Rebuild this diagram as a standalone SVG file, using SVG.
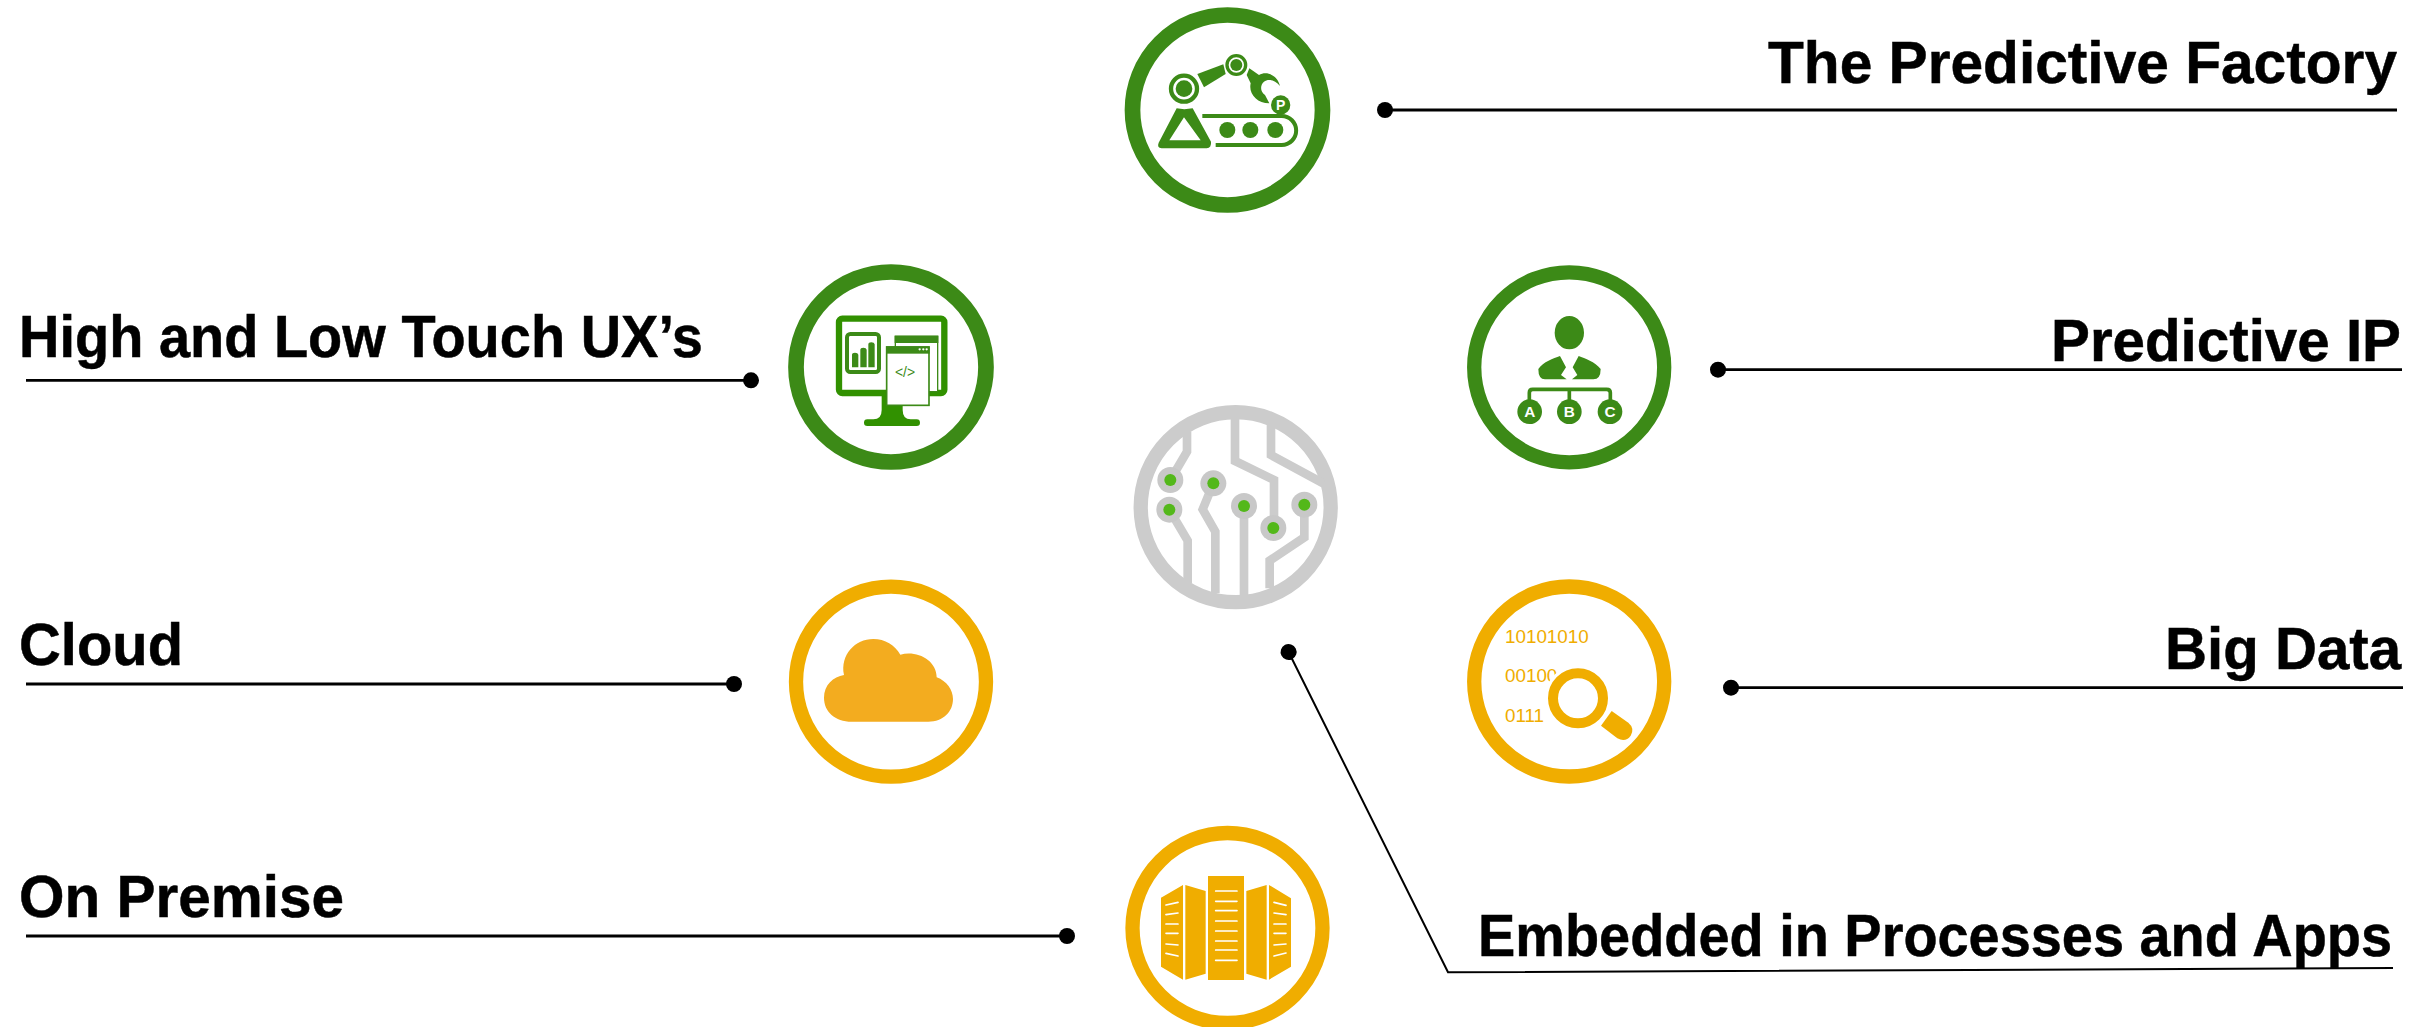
<svg xmlns="http://www.w3.org/2000/svg" width="2434" height="1027" viewBox="0 0 2434 1027">
<style>
.lbl{font-family:"Liberation Sans",Arial,sans-serif;font-weight:700;font-size:59px;fill:#000;stroke:#000;stroke-width:.5}
.end{text-anchor:end}
.ring{fill:#fff;stroke-width:14.300}
.wide{stroke-width:15.700}
.g{stroke:#3c8a17}.y{stroke:#f0ad00}.c{stroke:#cccccc}
.gf{fill:#3c8a17}.gb{fill:#319100}.yf{fill:#f0ad00}
.conn{fill:none;stroke:#000;stroke-width:2.800}
.thin{stroke-width:2}
.trace{fill:none;stroke:#cccccc;stroke-width:26;stroke-linejoin:miter}
.nd{fill:#c8c8c8}.ndc{fill:#53b81a}
.ic{font-family:"Liberation Sans",Arial,sans-serif;font-weight:700;fill:#fff;text-anchor:middle}
.bits{font-family:"Liberation Sans",Arial,sans-serif;font-size:56.500px;fill:#f0ad00}
.sl{stroke:#fff;stroke-width:5;stroke-linecap:round;fill:none}
</style>
<defs>
<marker id="dot" markerUnits="userSpaceOnUse" markerWidth="18" markerHeight="18" refX="9" refY="9" orient="auto"><circle cx="9" cy="9" r="8" fill="#000"/></marker>
</defs>
<g id="connectors">
<path class="conn" marker-start="url(#dot)" d="M1385,110H2397"/>
<path class="conn" marker-start="url(#dot)" d="M1718,369.700H2402"/>
<path class="conn" marker-start="url(#dot)" d="M751,380.300H26"/>
<path class="conn" marker-start="url(#dot)" d="M734,684H26"/>
<path class="conn" marker-start="url(#dot)" d="M1731,687.700H2403"/>
<path class="conn" marker-start="url(#dot)" d="M1067,936H26"/>
<path class="conn thin" marker-start="url(#dot)" d="M1288.600,652L1448,972.300L2393,968"/>
</g>
<g id="node-factory">
<circle class="ring wide g" cx="1227.500" cy="110" r="95"/>
<g transform="translate(1110,0) scale(.33333)">
<circle cx="222" cy="266" r="39" fill="none" stroke="#3c8a17" stroke-width="13"/><circle class="gf" cx="222" cy="266" r="25"/>
<circle cx="379" cy="195" r="28" fill="none" stroke="#3c8a17" stroke-width="10"/><circle class="gf" cx="379" cy="195" r="18"/>
<path class="gf" d="M262,222L340,193L347,222L282,262Z"/>
<path class="gf" d="M410,225L418,205L447,225C470,212 503,225 510,258C495,240 475,235 462,245C450,255 450,275 465,285L478,310C440,310 415,280 422,250Z"/>
<circle class="gf" cx="512" cy="315" r="29"/><text class="ic" x="512" y="330" font-size="42">P</text>
<path class="gf" fill-rule="evenodd" d="M200,325Q222,330 248,325L303,425Q305,443 290,445L155,445Q140,443 146,428ZM222,352L178,421H272Z"/>
<path d="M277,348H515A43.500,43.500 0 0 1 515,435H317" fill="none" stroke="#3c8a17" stroke-width="12"/>
<circle class="gf" cx="352" cy="390" r="24"/><circle class="gf" cx="421" cy="390" r="24"/><circle class="gf" cx="496" cy="390" r="24"/>
</g>
<text class="lbl end" x="2397" y="83" textLength="629" lengthAdjust="spacingAndGlyphs">The Predictive Factory</text>
</g>
<g id="node-ux">
<circle class="ring wide g" cx="891" cy="367" r="95"/>
<g transform="translate(780,260) scale(.33333)">
<path class="gb" d="M305,438V450Q305,478 280,478H262a10,10 0 0 0 0,20H410a10,10 0 0 0 0,-20H392Q368,478 368,450V405H305Z"/>
<rect x="177" y="176" width="316" height="223" rx="10" fill="#fff" stroke="#319100" stroke-width="19"/>
<rect x="201" y="222" width="96" height="114" rx="10" fill="#fff" stroke="#3c8a17" stroke-width="12"/>
<path class="gf" d="M216,322V284q0,-6 9,-6t10,6V322ZM241,322V269q0,-6 9,-6t10,6V322ZM265,322V253q0,-6 9,-6t10,6V322Z"/>
<rect x="346" y="229" width="127" height="166" fill="#fff" stroke="#3c8a17" stroke-width="4"/>
<rect class="gf" x="344" y="227" width="131" height="22"/>
<rect x="320" y="261" width="127" height="175" fill="#fff" stroke="#3c8a17" stroke-width="5"/>
<rect class="gf" x="318" y="259" width="131" height="22"/>
<circle cx="419" cy="268" r="3.500" fill="#fff"/><circle cx="430" cy="268" r="3.500" fill="#fff"/><circle cx="440" cy="268" r="3.500" fill="#fff"/>
<text x="375" y="352" font-size="42" text-anchor="middle" font-family="Liberation Sans,Arial,sans-serif" fill="#3c8a17">&lt;/&gt;</text>
</g>
<text class="lbl" x="19" y="356.700" textLength="684" lengthAdjust="spacingAndGlyphs">High and Low Touch UX’s</text>
</g>
<g id="node-ip">
<circle class="ring g" cx="1569.200" cy="367.300" r="95"/>
<g transform="translate(1460,260) scale(.33333)">
<ellipse class="gf" cx="328" cy="218" rx="44" ry="50"/>
<path class="gf" d="M235,327C250,305 280,295 300,288L318,322L303,345L320,358H255Q235,358 235,327Z"/>
<path class="gf" d="M356,288L338,322L352,345L336,358H400Q422,358 422,327C405,305 375,295 356,288Z"/>
<path d="M208,425V398Q208,388 218,388H440Q451,388 451,398V425M328,388V425" fill="none" stroke="#3c8a17" stroke-width="11"/>
<circle class="gf" cx="209" cy="455" r="37"/><circle class="gf" cx="328" cy="455" r="37"/><circle class="gf" cx="450" cy="455" r="37"/>
<text class="ic" x="209" y="472" font-size="46">A</text><text class="ic" x="328" y="472" font-size="46">B</text><text class="ic" x="450" y="472" font-size="46">C</text>
</g>
<text class="lbl end" x="2401" y="360.700" textLength="350" lengthAdjust="spacingAndGlyphs">Predictive IP</text>
</g>
<g id="node-core">
<circle class="ring c" cx="1235.700" cy="507.200" r="95"/>
<g transform="translate(1120,400) scale(.33333)">
<path class="trace" d="M201,95V155L151,240M148,329L203,422V550M280,250L248,328L286,395V580M372,318V590M345,50V183L462,240V384M453,70V165L610,250M553,314V412L449,482V565"/>
<g class="nd"><circle cx="151" cy="240" r="39"/><circle cx="148" cy="329" r="39"/><circle cx="280" cy="250" r="39"/><circle cx="372" cy="318" r="39"/><circle cx="460" cy="384" r="39"/><circle cx="553" cy="314" r="39"/></g>
<g class="ndc"><circle cx="151" cy="240" r="18"/><circle cx="148" cy="329" r="18"/><circle cx="280" cy="250" r="18"/><circle cx="372" cy="318" r="18"/><circle cx="460" cy="384" r="18"/><circle cx="553" cy="314" r="18"/></g>
</g>
<text class="lbl end" x="2392" y="956" textLength="914" lengthAdjust="spacingAndGlyphs">Embedded in Processes and Apps</text>
</g>
<g id="node-cloud">
<circle class="ring y" cx="891" cy="681.700" r="95"/>
<g transform="translate(780,575) scale(.33333)">
<path fill="#f3ac1f" d="M215,440C165,440 132,410 132,368C132,330 160,305 192,300C180,240 225,192 280,192C315,192 345,210 361,239C410,225 470,255 470,307C500,318 519,345 519,372C519,410 490,440 445,440Z"/>
</g>
<text class="lbl" x="19" y="665" textLength="164" lengthAdjust="spacingAndGlyphs">Cloud</text>
</g>
<g id="node-bigdata">
<circle class="ring y" cx="1569.200" cy="681.500" r="95"/>
<g transform="translate(1460,575) scale(.33333)">
<text class="bits" x="135" y="205">10101010</text><text class="bits" x="135" y="320">00100</text><text class="bits" x="135" y="441">0111</text>
<circle cx="354" cy="370" r="100" fill="#fff"/>
<circle cx="354" cy="370" r="75" fill="#fff" stroke="#f0ad00" stroke-width="30"/>
<path class="yf" d="M455,408L505,443Q525,460 512,482Q497,503 472,490L423,452Z"/>
</g>
<text class="lbl end" x="2401" y="669" textLength="236" lengthAdjust="spacingAndGlyphs">Big Data</text>
</g>
<g id="node-onpremise">
<circle class="ring y" cx="1227.500" cy="928" r="95"/>
<g transform="translate(1120,820) scale(.33333)">
<rect class="yf" x="264" y="168" width="108" height="312"/>
<path class="yf" d="M123,233L189,195V479L123,440ZM196,195L257,213V461L196,479ZM379,213L440,195V479L379,461ZM447,195L513,235V440L447,479Z"/>
<path class="sl" d="M287,213H351M287,244H351M287,272H351M287,303H351M287,333H351M287,363H351M287,390H351M287,421H351M138,255L174,247M138,284L174,279M138,312H174M138,340H174M138,372L174,375M138,400L174,408M462,247L498,256M462,279L498,284M462,312H498M462,340H498M462,375L498,372M462,408L498,399"/>
</g>
<text class="lbl" x="19" y="917" textLength="325" lengthAdjust="spacingAndGlyphs">On Premise</text>
</g>
</svg>
